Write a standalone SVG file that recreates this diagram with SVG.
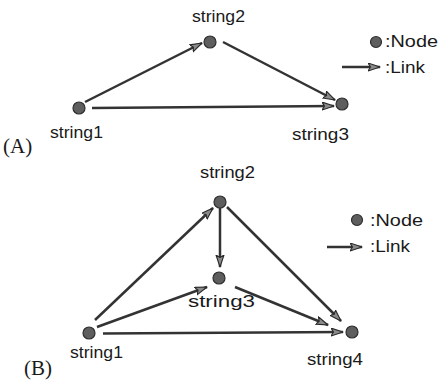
<svg xmlns="http://www.w3.org/2000/svg" width="439" height="382" viewBox="0 0 439 382">
<style>
.bg{fill:#fff}
.node{fill:#5e5e5e;stroke:#2e2e2e;stroke-width:1.2}
.lbl{font-family:"Liberation Sans",Arial,sans-serif;font-size:16.5px;fill:#1a1a1a}
.leg{font-family:"Liberation Sans",Arial,sans-serif;font-size:17px;fill:#1a1a1a}
.tag{font-family:"Liberation Serif","Times New Roman",serif;font-size:21px;fill:#1a1a1a}
.edge{stroke:#333;stroke-width:2.5;fill:none;marker-end:url(#ah)}
</style>
<defs>
<marker id="ah" markerUnits="userSpaceOnUse" markerWidth="14" markerHeight="10" refX="12" refY="4.5" orient="auto">
<path d="M0,0.5 L12,4.5 L0,8.5 L2.5,4.5 Z" fill="#8a8a8a" stroke="#2a2a2a" stroke-width="1.1" stroke-linejoin="round"/>
</marker>
</defs>
<rect class="bg" x="0" y="0" width="439" height="382"/>

<g id="connectors">
<line class="edge" x1="85" y1="102" x2="202" y2="43"/>
<line class="edge" x1="223" y1="42" x2="335" y2="100"/>
<line class="edge" x1="92" y1="108" x2="334" y2="106"/>
<line class="edge" x1="95" y1="320" x2="213" y2="208"/>
<line class="edge" x1="220" y1="208" x2="220" y2="267"/>
<line class="edge" x1="227" y1="207" x2="341" y2="321"/>
<line class="edge" x1="97" y1="327" x2="207" y2="287"/>
<line class="edge" x1="235" y1="287" x2="328" y2="325"/>
<line class="edge" x1="103" y1="333.5" x2="343" y2="332"/>
</g>

<g id="A-string1"><circle class="node" cx="79" cy="108" r="6"/><text class="lbl" x="50" y="138" textLength="53" lengthAdjust="spacingAndGlyphs">string1</text></g>
<g id="A-string2"><circle class="node" cx="210" cy="42" r="6"/><text class="lbl" x="192" y="22" textLength="53" lengthAdjust="spacingAndGlyphs">string2</text></g>
<g id="A-string3"><circle class="node" cx="342" cy="104" r="6"/><text class="lbl" x="292" y="140" textLength="57" lengthAdjust="spacingAndGlyphs">string3</text></g>
<g id="A-legend">
<circle class="node" cx="376" cy="42" r="5.5"/><text class="leg" x="385" y="47" textLength="53" lengthAdjust="spacingAndGlyphs">:Node</text>
<line class="edge" x1="342" y1="67" x2="380" y2="67"/><text class="leg" x="385" y="73" textLength="40" lengthAdjust="spacingAndGlyphs">:Link</text>
</g>
<text id="label-A" class="tag" x="3" y="153">(A)</text>

<g id="B-string1"><circle class="node" cx="89" cy="333" r="6"/><text class="lbl" x="70" y="358" textLength="53" lengthAdjust="spacingAndGlyphs">string1</text></g>
<g id="B-string2"><circle class="node" cx="220" cy="202" r="6"/><text class="lbl" x="200" y="178" textLength="55" lengthAdjust="spacingAndGlyphs">string2</text></g>
<g id="B-string3"><circle class="node" cx="219" cy="278" r="6"/><text class="lbl" x="188" y="307" textLength="67" lengthAdjust="spacingAndGlyphs">string3</text></g>
<g id="B-string4"><circle class="node" cx="352" cy="332" r="6"/><text class="lbl" x="307" y="365" textLength="56" lengthAdjust="spacingAndGlyphs">string4</text></g>
<g id="B-legend">
<circle class="node" cx="357" cy="220" r="5.5"/><text class="leg" x="370" y="226" textLength="53" lengthAdjust="spacingAndGlyphs">:Node</text>
<line class="edge" x1="327" y1="247" x2="362" y2="247"/><text class="leg" x="370" y="252" textLength="40" lengthAdjust="spacingAndGlyphs">:Link</text>
</g>
<text id="label-B" class="tag" x="24" y="375">(B)</text>
</svg>
